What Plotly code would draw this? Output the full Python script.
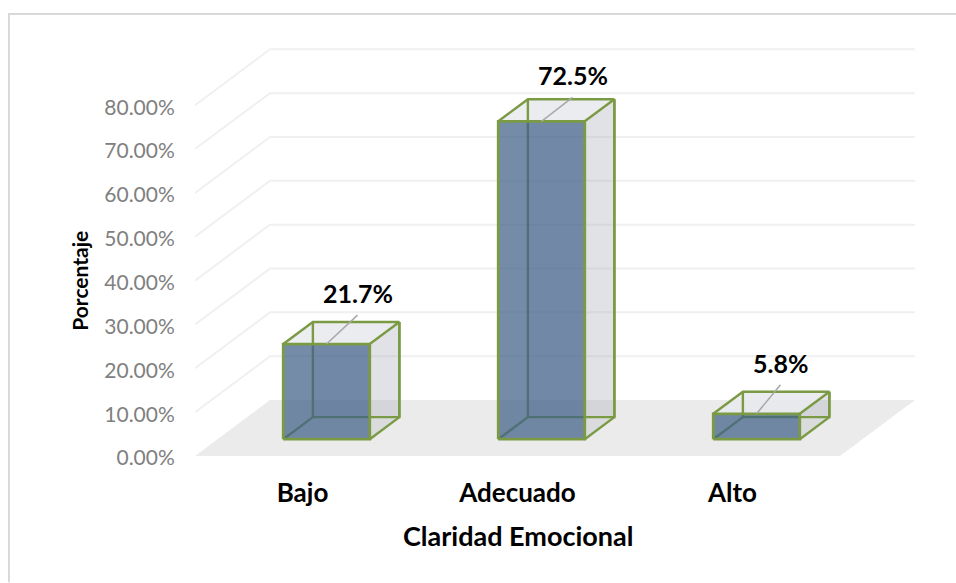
import plotly.graph_objects as go

categories = ["Bajo", "Adecuado", "Alto"]
values = [21.7, 72.5, 5.8]
value_labels = ["21.7%", "72.5%", "5.8%"]
tick_vals = [0, 10, 20, 30, 40, 50, 60, 70, 80]
tick_labels = ["0.00%", "10.00%", "20.00%", "30.00%", "40.00%", "50.00%", "60.00%", "70.00%", "80.00%"]

FIG_W, FIG_H = 956, 583
# plot box in pixels; the y axis sits on the front-left corner of the floor
LEFT, RIGHT = 195, 915
BOTTOM, TOP = 456.5, 30
PX_X = 215.0  # one category in pixels
PX_Y = 4.39  # one percent in pixels

# oblique projection: depth 0..1 shifts a point right and up
DEPTH_X = 75 / PX_X
DEPTH_Y = 56 / PX_Y
BAR_WIDTH = 86.5 / PX_X
BAR_SHIFT = 1.5 / PX_X
BAR_FRONT, BAR_BACK = 0.30, 0.695

# leader lines were placed by hand in the original, so they differ per bar (pixels)
LEADER_DX = [31, 31, 24]
LEADER_DY = [29, 24, 29]

GRID = "#f0f0f0"
FLOOR = "#ebebeb"
GREEN = "#7b9a44"
FRONT_FILL = "rgba(63,96,135,0.72)"
SIDE_FILL = "rgba(170,175,180,0.26)"
BACK_FILL = "rgba(170,175,180,0.12)"
TOP_FILL = "rgba(232,234,237,0.8)"


def proj(x, y, d):
    return x + d * DEPTH_X, y + d * DEPTH_Y


def poly(points, fill=None, line=None, width=2.4):
    xs, ys = zip(*points)
    return go.Scatter(
        x=list(xs),
        y=list(ys),
        mode="lines",
        fill="toself" if fill else None,
        fillcolor=fill,
        line=dict(color=line or "rgba(0,0,0,0)", width=width if line else 0),
        hoverinfo="skip",
        showlegend=False,
    )


def add_bar(fig, center, value):
    x0 = center - BAR_WIDTH / 2
    x1 = center + BAR_WIDTH / 2
    p = proj

    # back faces first, front face last so the green edges show through
    fig.add_trace(poly([p(x0, value, BAR_BACK), p(x1, value, BAR_BACK), p(x1, 0, BAR_BACK), p(x0, 0, BAR_BACK), p(x0, value, BAR_BACK)], BACK_FILL))
    fig.add_trace(poly([p(x1, 0, BAR_FRONT), p(x1, value, BAR_FRONT), p(x1, value, BAR_BACK), p(x1, 0, BAR_BACK), p(x1, 0, BAR_FRONT)], SIDE_FILL))
    fig.add_trace(poly([p(x0, value, BAR_FRONT), p(x1, value, BAR_FRONT), p(x1, value, BAR_BACK), p(x0, value, BAR_BACK), p(x0, value, BAR_FRONT)], TOP_FILL))
    # hidden edges
    fig.add_trace(poly([p(x0, value, BAR_BACK), p(x0, 0, BAR_BACK), p(x1, 0, BAR_BACK), p(x1, value, BAR_BACK)], None, GREEN))
    fig.add_trace(poly([p(x0, 0, BAR_BACK), p(x0, 0, BAR_FRONT)], None, GREEN))
    fig.add_trace(poly([p(x1, 0, BAR_BACK), p(x1, 0, BAR_FRONT)], None, GREEN))
    # front face
    fig.add_trace(poly([p(x0, 0, BAR_FRONT), p(x1, 0, BAR_FRONT), p(x1, value, BAR_FRONT), p(x0, value, BAR_FRONT), p(x0, 0, BAR_FRONT)], FRONT_FILL, GREEN, 2.8))
    # top and right outline
    fig.add_trace(poly([p(x0, value, BAR_FRONT), p(x0, value, BAR_BACK), p(x1, value, BAR_BACK), p(x1, value, BAR_FRONT)], None, GREEN))
    fig.add_trace(poly([p(x1, value, BAR_BACK), p(x1, 0, BAR_BACK)], None, GREEN))


fig = go.Figure()

# floor
n = len(categories)
fig.add_trace(poly([proj(0, 0, 0), proj(n, 0, 0), proj(n, 0, 1), proj(0, 0, 1), proj(0, 0, 0)], FLOOR))

# gridlines along the side wall and the back wall
for t in tick_vals[1:]:
    fig.add_trace(poly([proj(0, t, 0), proj(0, t, 1), proj(n, t, 1)], None, GRID, 2))

centers = [i + 0.5 for i in range(n)]
for c, v in zip(centers, values):
    add_bar(fig, c + BAR_SHIFT, v)

# leader lines and value labels
for c, v, label, dx, dy in zip(centers, values, value_labels, LEADER_DX, LEADER_DY):
    start = proj(c + BAR_SHIFT, v, BAR_FRONT)
    end = (start[0] + dx / PX_X, start[1] + dy / PX_Y)
    fig.add_trace(go.Scatter(
        x=[start[0], end[0]],
        y=[start[1], end[1]],
        mode="lines",
        line=dict(color="#a8a8a8", width=1.5),
        hoverinfo="skip",
        showlegend=False,
    ))
    fig.add_annotation(
        x=end[0], y=end[1], text="<b>%s</b>" % label, showarrow=False, yshift=22,
        font=dict(family="Lato", size=25, color="#000000"),
    )

fig.update_layout(
    width=FIG_W,
    height=FIG_H,
    margin=dict(l=LEFT, r=FIG_W - RIGHT, t=TOP, b=FIG_H - BOTTOM),
    paper_bgcolor="white",
    plot_bgcolor="white",
    showlegend=False,
    font=dict(family="Lato"),
)
fig.update_xaxes(
    range=[0, (RIGHT - LEFT) / PX_X],
    tickmode="array",
    tickvals=centers,
    ticktext=["<b>%s</b>" % c for c in categories],
    tickfont=dict(size=26, color="#000000"),
    ticks="outside",
    ticklen=14,
    tickcolor="rgba(0,0,0,0)",
    showgrid=False,
    zeroline=False,
    showline=False,
)
fig.update_yaxes(
    range=[0, (BOTTOM - TOP) / PX_Y],
    tickmode="array",
    tickvals=tick_vals,
    ticktext=tick_labels,
    tickfont=dict(size=21, color="#808080"),
    ticks="outside",
    ticklen=15,
    ticklabelshift=2,
    tickcolor="rgba(0,0,0,0)",
    showgrid=False,
    zeroline=False,
    showline=False,
)

# axis titles and chart frame sit in paper pixels
fig.add_annotation(
    xref="paper", yref="paper",
    x=(518 - LEFT) / (RIGHT - LEFT), y=(BOTTOM - 536) / (BOTTOM - TOP),
    xanchor="center", yanchor="middle",
    text="<b>Claridad Emocional</b>", showarrow=False,
    font=dict(size=27, color="#000000"),
)
fig.add_annotation(
    xref="paper", yref="paper",
    x=(80 - LEFT) / (RIGHT - LEFT), y=(BOTTOM - 281) / (BOTTOM - TOP),
    xanchor="center", yanchor="middle",
    text="<b>Porcentaje</b>", textangle=-90, showarrow=False,
    font=dict(size=21, color="#000000"),
)
fig.add_shape(
    type="path", xref="paper", yref="paper",
    path="M %f %f L %f %f L %f %f" % (
        (9 - LEFT) / (RIGHT - LEFT), (BOTTOM - 583) / (BOTTOM - TOP),
        (9 - LEFT) / (RIGHT - LEFT), (BOTTOM - 14) / (BOTTOM - TOP),
        (956 - LEFT) / (RIGHT - LEFT), (BOTTOM - 14) / (BOTTOM - TOP),
    ),
    line=dict(color="#d9d9d9", width=2),
)

fig.write_html("out.html", config=dict(displayModeBar=False), post_script="document.body.style.margin='0';")
